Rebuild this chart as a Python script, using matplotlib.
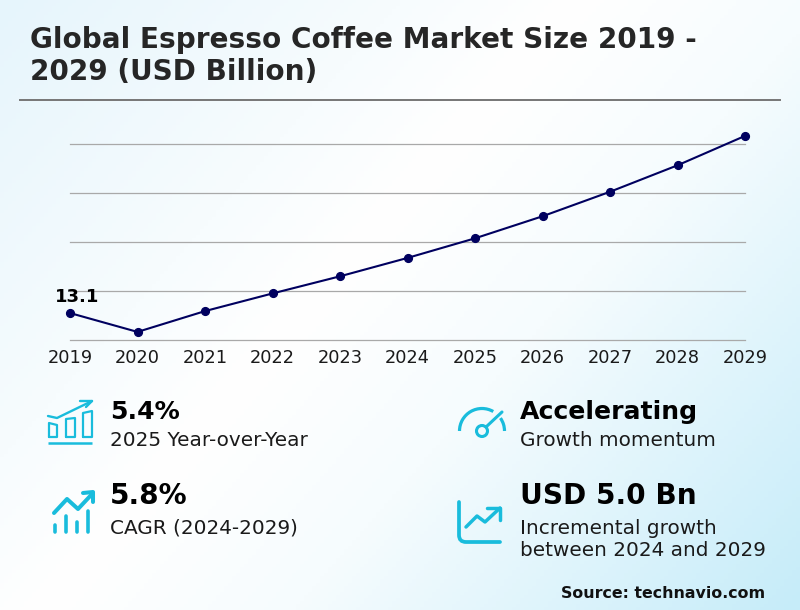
import numpy as np
import matplotlib
matplotlib.use("Agg")
import matplotlib.pyplot as plt
from matplotlib.patches import Circle, Arc, PathPatch
from matplotlib.path import Path
from matplotlib.colors import LinearSegmentedColormap

years = ['2019','2020','2021','2022','2023','2024','2025','2026','2027','2028','2029']
values = [13.1,12.33,13.18,13.9,14.6,15.35,16.15,17.05,18.05,19.13,20.33]
grid_values = [12,14,16,18,20]
title = "Global Espresso Coffee Market Size 2019 -\n2029 (USD Billion)"
kpis = [
    (110,412,'5.4%',18.1,440,'2025 Year-over-Year'),
    (110,496,'5.8%',20.2,528,'CAGR (2024-2029)'),
    (520,412,'Accelerating',18.1,440,'Growth momentum'),
    (520,496,'USD 5.0 Bn',20.2,539,'Incremental growth\nbetween 2024 and 2029'),
]
W,H=800,610
fig=plt.figure(figsize=(8,6.1),dpi=100)
bg=fig.add_axes([0,0,1,1]); bg.set_xlim(0,W); bg.set_ylim(H,0); bg.axis('off')
yy,xx=np.mgrid[0:1:200j,0:1:200j]
t=0.6*xx+0.4*yy
cmap=LinearSegmentedColormap.from_list('bg',[(0,'#e6f5fc'),(0.3,'#f7fcfe'),(0.43,'#ffffff'),(0.62,'#f6fcfe'),(1,'#c6ecf9')])
bg.imshow(t,extent=[0,W,H,0],cmap=cmap,aspect='auto',vmin=0,vmax=1,zorder=0)
bg.text(30,56,title,fontsize=20.1,fontweight='bold',color='#262626',ha='left',va='center',linespacing=1.17,zorder=2)
bg.plot([20,780],[100,100],color='#767676',lw=1.4,zorder=2)
for x,y1,head,fs,y2,sub in kpis:
    bg.text(x,y1,head,fontsize=fs,fontweight='bold',color='black',ha='left',va='center',zorder=2)
    bg.text(x,y2,sub,fontsize=14.4,color='#1a1a1a',ha='left',va='center',linespacing=1.2,zorder=2)
bg.text(765,594,'Source: technavio.com',fontsize=11.45,fontweight='bold',color='#111111',ha='right',va='center',zorder=2)

ic='#19bcdc'
def ln(xs,ys,lw=2.4,cap='round'):
    bg.plot(xs,ys,color=ic,lw=lw,solid_capstyle=cap,solid_joinstyle='round',zorder=2)
# icon 1
ln([48,92],[443,443],1.8,'butt')
for x0,x1,t0,t1 in [(49,57,423,425),(66,75,419,418),(83,92,413,411)]:
    ln([x0,x0,x1,x1,x0],[437,t0,t1,437,437],1.6)
ln([48,57,92],[416,418,401],1.7)
ln([80,92,86],[401,401,407],1.7)
# icon 2
ln([54,67,78,93],[513,499,509,493],2.9)
ln([83,93,93],[493,492,502],2.9)
for x0,top in [(55,525),(66,516),(77,522),(88,511)]:
    ln([x0,x0],[top,532],2.6)
# gauge
for a,b in [(180,300),(325,360)]:
    bg.add_patch(Arc((482,431),45,45,theta1=a,theta2=b,color=ic,lw=2.3,zorder=2))
bg.add_patch(Circle((482,431),5.5,fill=False,ec=ic,lw=2.2,zorder=2))
ln([486,502],[427,412],2.2)
# growth icon
bg.add_patch(PathPatch(Path([(459,502),(459,535),(459,542),(466,542),(500,542)],
    [Path.MOVETO,Path.LINETO,Path.CURVE3,Path.CURVE3,Path.LINETO]),
    fill=False,ec=ic,lw=2.7,capstyle='round',zorder=2))
ln([466,477,485,500],[527,516,522,508],2.5)
ln([487,500,500],[508,508,520],2.5)

ax=fig.add_axes([0,0,1,1],facecolor='none')
left,right,bot,top=70,745,340,144
ax.set_position([left/W,1-bot/H,(right-left)/W,(bot-top)/H])
xs=np.arange(len(years))
ax.set_xlim(0,len(years)-1); ax.set_ylim(12,20)
ax.set_yticks(grid_values); ax.set_yticklabels([])
ax.set_xticks(xs); ax.set_xticklabels(years,fontsize=12.8,color='#1a1a1a')
ax.tick_params(length=0,pad=6.5)
ax.grid(axis='y',color='#a9a9a9',lw=0.9); ax.grid(axis='x',visible=False)
for g in ax.get_ygridlines(): g.set_clip_on(False)
ax.set_axisbelow(True)
for s in ax.spines.values(): s.set_visible(False)
ax.plot(xs,values,color='#00005f',lw=1.5,marker='o',ms=5.6,clip_on=False,zorder=5)
ax.annotate(f'{values[0]}',(0,values[0]),xytext=(5,11.5),textcoords='offset points',fontsize=13,fontweight='bold',color='black',ha='center',va='center')
fig.savefig('out.png',dpi=100)
